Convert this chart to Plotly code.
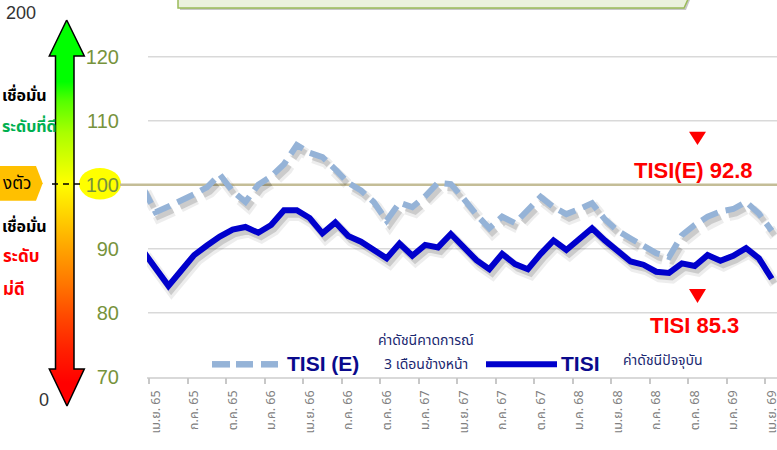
import plotly.graph_objects as go
import pandas as pd

# ---------------- data ----------------
months = [p.strftime("%Y-%m") for p in pd.period_range("2022-03", "2026-04", freq="M")]

tisi = [89.7, 86.9, 84.2, 86.6, 89.0, 90.5, 91.9, 93.0, 93.4, 92.5,
        93.7, 96.0, 96.0, 94.8, 92.4, 94.1, 92.0, 91.1, 89.8, 88.5,
        90.8, 88.9, 90.6, 90.2, 92.3, 90.3, 88.2, 86.8, 89.2, 87.6,
        86.8, 89.2, 91.3, 89.8, 91.5, 93.2, 91.3, 89.5, 88.0, 87.5,
        86.4, 86.2, 87.7, 87.3, 89.0, 88.1, 88.9, 90.1, 88.5, 85.3]

tisi_e = [99.6, 95.7, 96.6, 97.5, 98.5, 99.6, 101.6, 99.0, 97.3, 100.0,
          101.3, 103.2, 106.2, 105.0, 104.3, 102.4, 100.3, 99.1, 97.3, 94.4,
          97.2, 96.5, 98.2, 100.3, 100.1, 97.8, 95.3, 93.2, 95.0, 94.0,
          96.2, 98.1, 96.5, 95.4, 96.2, 97.1, 94.6, 92.8, 91.6, 90.4,
          89.3, 88.7, 92.1, 93.7, 95.0, 95.8, 96.2, 97.3, 95.5, 92.8]

tick_labels = ["เม.ย. 65", "ก.ค. 65", "ต.ค. 65", "ม.ค. 66", "เม.ย. 66", "ก.ค. 66",
               "ต.ค. 66", "ม.ค. 67", "เม.ย. 67", "ก.ค. 67", "ต.ค. 67", "ม.ค. 68",
               "เม.ย. 68", "ก.ค. 68", "ต.ค. 68", "ม.ค. 69", "เม.ย. 69"]
y_ticks = [70, 80, 90, 100, 110, 120]
gauge_labels = ["200", "0"]

# ---------------- helpers ----------------
W, H = 777, 450
def px(v):
    return v / W
def py(v):
    return 1 - v / H

x = [i - 1 for i in range(len(months))]          # month index, เม.ย. 65 = 0
tickvals = x[1::3]
bound_vals = [v - 0.5 for v in tickvals]

FONT = "Arial, 'Liberation Sans', sans-serif"
THAI = "Tahoma, 'Noto Sans Thai', 'Noto Sans', sans-serif"
NAVY = "#0a0a8c"
NAVY2 = "#1a2870"
DASH_COL = "#95b3d7"
SOLID_COL = "#0000cc"

fig = go.Figure()

# shadows
for series, dash in ((tisi_e, "18px,8px"), (tisi, "solid")):
    fig.add_trace(go.Scatter(x=[v + 0.25 for v in x], y=[v - 0.8 for v in series],
                             mode="lines", line=dict(color="rgba(0,0,0,0.07)", width=11, dash=dash),
                             hoverinfo="skip", showlegend=False))
    fig.add_trace(go.Scatter(x=[v + 0.22 for v in x], y=[v - 0.7 for v in series],
                             mode="lines", line=dict(color="rgba(0,0,0,0.14)", width=6, dash=dash),
                             hoverinfo="skip", showlegend=False))

fig.add_trace(go.Scatter(x=x, y=tisi_e, mode="lines", name="TISI (E)",
                         line=dict(color=DASH_COL, width=6, dash="18px,8px"), showlegend=False))
fig.add_trace(go.Scatter(x=x, y=tisi, mode="lines", name="TISI",
                         line=dict(color=SOLID_COL, width=6), showlegend=False))

# gauge arrow in pixel overlay
ax = [66.7, 84.3, 74, 74, 84.3, 67, 49.3, 55.5, 55.5, 49.3, 66.7]
ay = [20, 56, 56, 369, 369, 406, 369, 369, 56, 56, 20]
fig.add_trace(go.Scatter(
    x=ax, y=ay, xaxis="x2", yaxis="y2", mode="lines", fill="toself",
    line=dict(color="black", width=1.5),
    fillgradient=dict(type="vertical", start=406, stop=20,
                      colorscale=[[0, "#ff0000"], [0.06, "#ff0000"], [0.145, "#ff2000"],
                                  [0.23, "#ff4800"], [0.32, "#ff7800"], [0.40, "#ffa000"],
                                  [0.49, "#ffd000"], [0.578, "#ffff00"], [0.707, "#aaff00"],
                                  [0.79, "#55ff00"], [0.84, "#00ff00"], [1, "#00ff00"]]),
    hoverinfo="skip", showlegend=False))

shapes = []
# gridlines
for v in y_ticks:
    if v in (70, 100):
        continue
    shapes.append(dict(type="line", xref="paper", yref="y", x0=px(148), x1=1, y0=v, y1=v,
                       line=dict(color="#d9d9d9", width=1.5), layer="below"))
# yellow ellipse behind 100
shapes.append(dict(type="circle", xref="paper", yref="paper", x0=px(79), x1=px(121),
                   y0=py(199.5), y1=py(168), fillcolor="#ffff00", line=dict(width=0), layer="below"))
# 100 reference line
shapes.append(dict(type="line", xref="paper", yref="y", x0=px(120), x1=1, y0=100, y1=100,
                   line=dict(color="#c4bd97", width=2.5), layer="below"))
# dashed black marker across arrow
shapes.append(dict(type="line", xref="paper", yref="paper", x0=px(52), x1=px(82),
                   y0=py(184), y1=py(184), line=dict(color="black", width=1.5, dash="6px,5px"),
                   layer="above"))

def path(pts):
    s = "M" + " L".join(f"{px(a):.5f},{py(b):.5f}" for a, b in pts) + " Z"
    return s

# orange tag
shapes.append(dict(type="path", xref="paper", yref="paper",
                   path=path([(-2, 166), (36, 166), (42.7, 183.3), (36, 200.7), (-2, 200.7)]),
                   fillcolor="#ffc000", line=dict(width=0), layer="above"))
# top box + shadow
shapes.append(dict(type="path", xref="paper", yref="paper",
                   path=path([(180, -5), (692, -5), (686, 10), (180, 10)]),
                   fillcolor="rgba(0,0,0,0.22)", line=dict(width=0), layer="above"))
shapes.append(dict(type="path", xref="paper", yref="paper",
                   path=path([(178, -5), (690, -5), (684, 8), (178, 8)]),
                   fillcolor="#ebf1de", line=dict(color="#9bbb59", width=1.5), layer="above"))
# red triangles
shapes.append(dict(type="path", xref="paper", yref="paper",
                   path=path([(689, 131.7), (706, 131.7), (697.5, 145)]),
                   fillcolor="#ff0000", line=dict(width=0), layer="above"))
shapes.append(dict(type="path", xref="paper", yref="paper",
                   path=path([(689, 289), (706, 289), (697.5, 303)]),
                   fillcolor="#ff0000", line=dict(width=0), layer="above"))
# legend samples
for a, b in ((212, 230), (236, 253), (261, 278)):
    shapes.append(dict(type="line", xref="paper", yref="paper", x0=px(a), x1=px(b),
                       y0=py(364.3), y1=py(364.3), line=dict(color=DASH_COL, width=6.5),
                       layer="above"))
shapes.append(dict(type="line", xref="paper", yref="paper", x0=px(486), x1=px(557),
                   y0=py(364.3), y1=py(364.3), line=dict(color=SOLID_COL, width=6),
                   layer="above"))

ann = []
def txt(t, xpx, ypx, size, color, xanchor="center", bold=False, family=FONT):
    ann.append(dict(text=f"<b>{t}</b>" if bold else t, x=px(xpx), y=py(ypx),
                    xref="paper", yref="paper", xanchor=xanchor, yanchor="middle",
                    showarrow=False, font=dict(size=size, color=color, family=family)))

txt(gauge_labels[0], 21, 13, 18, "#333333")
txt(gauge_labels[1], 43.5, 400, 18, "#333333")
txt("เชื่อมั่น", 0, 96, 16, "#000000", xanchor="left", bold=True, family=THAI)
txt("ระดับที่ดี", 0, 127, 16, "#00b050", xanchor="left", bold=True, family=THAI)
txt("งตัว", 33, 183.5, 17, "#000000", xanchor="right", family=THAI)
txt("เชื่อมั่น", 0, 227, 16, "#000000", xanchor="left", bold=True, family=THAI)
txt("ระดับ", 41, 257, 17, "#ff0000", xanchor="right", bold=True, family=THAI)
txt("ม่ดี", 1, 290, 17, "#ff0000", xanchor="left", bold=True, family=THAI)

txt(f"TISI(E) {tisi_e[-1]}", 693.5, 170, 22, "#ff0000", bold=True)
txt(f"TISI {tisi[-1]}", 694, 325.5, 22, "#ff0000", bold=True)

txt("TISI (E)", 323, 363, 21, NAVY, bold=True)
txt("ค่าดัชนีคาดการณ์", 426, 340, 14, NAVY2, family=THAI)
txt("3 เดือนข้างหน้า", 426, 364, 14, NAVY2, family=THAI)
txt("TISI", 580.5, 363, 21, NAVY, bold=True)
txt("ค่าดัชนีปัจจุบัน", 663, 360, 14, NAVY2, family=THAI)

fig.update_layout(
    width=W, height=H, margin=dict(l=0, r=0, t=0, b=0),
    paper_bgcolor="white", plot_bgcolor="rgba(0,0,0,0)",
    showlegend=False, shapes=shapes, annotations=ann,
    font=dict(family=FONT),
    xaxis=dict(domain=[px(147), 1], range=[-0.67, 48.41], tickmode="array",
               tickvals=tickvals, ticktext=tick_labels, tickangle=-90, ticks="",
               tickfont=dict(size=12.5, color="#808080", family=THAI),
               ticklabelstandoff=7, ticklabeloverflow="allow",
               showline=True, linecolor="#d9d9d9", linewidth=1.5,
               showgrid=False, zeroline=False, automargin=False,
               minor=dict(tickmode="array", tickvals=bound_vals, ticks="outside",
                          ticklen=6, tickwidth=1.5, tickcolor="#c8c8c8", showgrid=False)),
    yaxis=dict(domain=[py(376.7), 1], range=[70, 70 + 376.7 / 6.4], tickmode="array",
               tickvals=y_ticks, ticktext=[str(v) for v in y_ticks], ticks="",
               tickfont=dict(size=20, color="#77933c"), ticklabelstandoff=27,
               showgrid=False, zeroline=False, showline=False, automargin=False),
    xaxis2=dict(domain=[0, 1], range=[0, W], visible=False, anchor="y2", fixedrange=True),
    yaxis2=dict(domain=[0, 1], range=[H, 0], visible=False, anchor="x2", fixedrange=True),
)

fig.write_html("out.html", config={"displayModeBar": False},
               post_script="document.body.style.margin='0';document.body.style.padding='0';")
